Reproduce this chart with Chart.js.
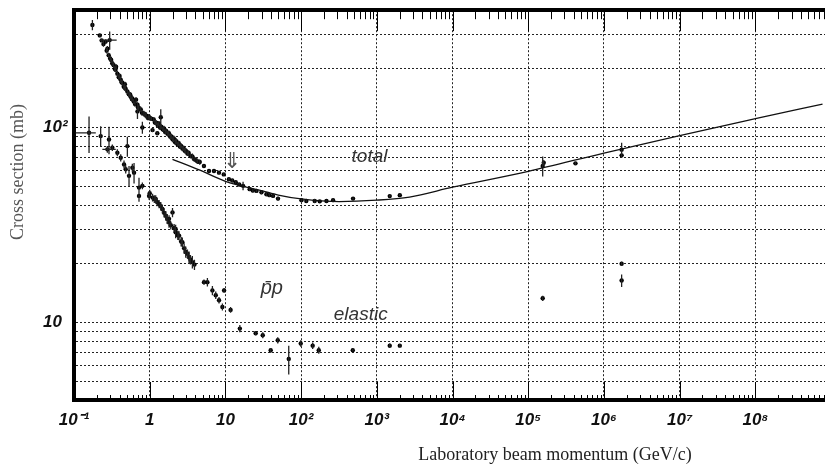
<!DOCTYPE html>
<html>
<head>
<meta charset="utf-8">
<title>pp cross sections</title>
<script src="https://cdn.jsdelivr.net/npm/chart.js@4.4.0/dist/chart.umd.min.js"></script>
<style>
  html, body { margin: 0; padding: 0; background: #fff; overflow: hidden; }
</style>
</head>
<body>
<canvas id="chart" width="825" height="465"></canvas>
<script>
// Axis ticks
const xDecades = [0.1, 1, 10, 1e2, 1e3, 1e4, 1e5, 1e6, 1e7, 1e8];
const xDecadeLabels = ['10\u207B\u00B9', '1', '10', '10\u00B2', '10\u00B3', '10\u2074', '10\u2075', '10\u2076', '10\u2077', '10\u2078'];
const xMinorSteps = [2, 3, 4, 5, 6, 7, 8, 9];
const yGridValues = [4, 5, 6, 7, 8, 9, 10, 20, 30, 40, 50, 60, 70, 80, 90, 100, 200, 300, 400];
const yLabelValues = [10, 100];
const yLabelTexts = ['10', '10\u00B2'];

// Total cross section fit (GeV/c, mb)
const fitMomentum = [2, 4.6, 10, 31, 50, 100, 320, 1000, 2700, 1e4, 1e5, 1e6, 1e7, 1e8, 7.7e8];
const fitSigma = [68.7, 60.4, 53, 47.3, 45, 43, 41.7, 42.4, 44, 49.4, 59.6, 74, 91, 111, 132];

// Total cross section measurements
const totalMomentum = [0.175, 0.219, 0.232, 0.262, 0.276, 0.287, 0.31, 0.334, 0.354, 0.374, 0.414, 0.434,
  0.454, 0.48, 0.507, 0.561, 0.59, 0.615, 0.689, 0.72, 0.761, 0.834, 0.9, 0.97, 1.05, 1.13, 1.22, 1.32,
  1.42, 1.54, 1.65, 1.79, 1.93, 2.08, 2.25, 2.42, 2.6, 2.81, 3.0, 3.27, 3.66, 4.1, 4.58,
  0.245, 0.27, 0.3, 0.32, 0.345, 0.39, 0.425, 0.47, 0.53, 0.58, 0.64, 0.7, 0.79, 0.87, 0.95, 1.0,
  1.17, 1.27, 1.37, 1.48, 1.6, 1.72, 1.86, 2.0, 2.17, 2.33, 2.5, 2.7, 2.9, 3.15, 3.45, 3.85, 4.3,
  0.296, 0.689, 0.8, 1.09, 1.26, 1.4, 0.36, 0.4, 0.47, 0.55, 0.66,
  5.2, 6.07, 7.06, 8.22, 9.5, 11.1, 12.3, 13.7, 15.2, 17.1, 20.9, 23, 25.7, 29.9, 34.8, 38, 42.6, 49.5,
  101, 117, 151, 176, 216, 264, 485, 1480, 2010, 1.55e5, 1.6e5, 4.2e5, 1.71e6, 1.71e6];
const totalSigma = [336, 297, 280, 276, 254, 235, 222, 209, 198, 189, 176, 170,
  162, 158, 153, 144, 141, 136, 131, 126, 124, 118, 115, 114, 111, 110, 106, 105,
  101, 99, 96, 93.5, 90, 88, 85, 83, 80.5, 78.4, 76, 74, 71, 68, 66.5,
  268, 248, 226, 214, 200, 181, 171, 160, 148, 140, 132, 127, 119, 117, 112, 112,
  106, 103, 100, 98, 95, 93, 90, 87, 84, 82, 80, 78, 76, 73.5, 71.5, 69, 67,
  281, 121, 100, 97, 93.5, 113, 205, 184, 167, 148, 139,
  63.5, 59.8, 59.8, 58.7, 57.5, 54.3, 53.5, 52.4, 51, 50.2, 48.3, 47.5, 47.3, 46.5, 45.5, 45, 44.6, 43.2,
  42.4, 42.0, 42.0, 41.8, 42.0, 42.4, 43.2, 44.5, 45.0, 63.5, 66, 65.5, 77, 72];
const totalErr = [20, 6, 5, 8, 8, 7, 7, 7, 6, 6, 6, 6,
  5, 5, 5, 5, 5, 4, 4, 4, 4, 4, 4, 3, 3, 3, 3, 3,
  3, 3, 3, 3, 3, 3, 3, 2.5, 2.5, 2.5, 2.5, 2.5, 2.5, 2, 2,
  8, 8, 7, 7, 6, 6, 5, 5, 5, 4, 4, 4, 4, 3, 3, 3,
  3, 3, 3, 3, 3, 3, 3, 3, 2.5, 2.5, 2.5, 2.5, 2.5, 2, 2, 2, 2,
  30, 10.5, 7, 2, 2, 11, 6, 6, 5, 4, 4,
  1, 1, 1, 1, 1, 1, 1, 1, 1, 2.5, 1, 1, 1, 1, 1, 1, 1, 1,
  1, 0.6, 1, 0.6, 0.6, 0.6, 0.6, 0.6, 0.6, 7.5, 2, 1, 6.5, 2];

// Elastic cross section measurements
const elasticMomentum = [0.158, 0.225, 0.29, 0.276, 0.321, 0.374, 0.414, 0.458, 0.482, 0.507, 0.533, 0.59,
  0.621, 0.722, 0.8, 0.722, 0.98, 1.09, 1.2, 1.33, 1.47, 1.63, 1.8, 2.0, 2.2, 2.44, 2.7, 2.99, 3.31, 3.66,
  1.0, 1.15, 1.25, 1.4, 1.55, 1.7, 1.9, 2.1, 2.35, 2.6, 2.85, 3.15, 3.45, 3.9,
  1.8, 2.2, 5.21, 5.78, 6.73, 7.45, 8.23, 9.12, 9.6, 11.7, 15.5, 25.1, 31.1, 39.6, 49.1, 68.6,
  98.8, 142, 171, 481, 1480, 2010, 1.55e5, 1.71e6, 1.71e6];
const elasticSigma = [94, 90.4, 86.9, 77.3, 78.8, 74.3, 70, 64.7, 61.1, 80.3, 56.5, 62.2,
  58.7, 49.2, 50.2, 44.6, 44.6, 43.7, 43, 40.5, 38.2, 35.3, 32.6, 36.7, 29, 27.9, 25.8, 23, 21.6, 20.4,
  46, 43, 41.5, 39.5, 36.5, 34, 31.5, 30.5, 28, 26, 24, 22.5, 21, 19.8,
  34, 30.2, 16.1, 16.1, 14.6, 13.8, 13.0, 12.0, 14.6, 11.6, 9.3, 8.8, 8.6, 7.2, 8.1, 6.5,
  7.8, 7.6, 7.2, 7.2, 7.6, 7.6, 13.3, 20.0, 16.4];
const elasticErr = [20, 11, 14, 3, 3, 3, 3, 3, 3, 9.5, 7, 3,
  7, 6, 2, 3, 2, 2, 2, 2, 2, 2, 2, 2, 2, 1.5, 1.5, 1.5, 1.5, 1.5,
  2, 2, 2, 2, 2, 2, 1.5, 1.5, 1.5, 1.5, 1.5, 1.2, 1.2, 1.2,
  1.5, 1.5, 0.5, 0.8, 0.8, 0.6, 0.5, 0.5, 0.4, 0.4, 0.4, 0.2, 0.3, 0.2, 0.3, 1.1,
  0.3, 0.3, 0.3, 0.1, 0.2, 0.15, 0.4, 0.5, 1.2];

// Horizontal error bars (momentum range at a given cross section)
const hBarLow = [0.105, 0.237, 0.219];
const hBarHigh = [0.194, 0.356, 0.366];
const hBarSigma = [94, 77.3, 281];

// Text inside the plot, placed in data coordinates
const noteTexts = ['total', 'p\u0304p', 'elastic', '\u21D3'];
const noteMomentum = [800, 41, 612, 12.3];
const noteSigma = [71, 14.9, 10.9, 66];
const noteFonts = ['italic 19px "Liberation Sans", Arial, sans-serif', 'italic 20px "Liberation Sans", Arial, sans-serif',
  'italic 19px "Liberation Sans", Arial, sans-serif', '22px "DejaVu Sans", sans-serif'];

const X_MIN = 0.1, X_MAX = 8.3e8, Y_MIN = 4, Y_MAX = 400;

// minor + major tick list for the log x axis
const xTickValues = [];
xDecades.forEach(d => {
  xTickValues.push(d);
  xMinorSteps.forEach(m => { if (d * m < X_MAX) xTickValues.push(d * m); });
});

function isDecade(v) {
  const e = Math.log10(v);
  return Math.abs(e - Math.round(e)) < 1e-6;
}

// vertical error bar segments, broken by null points
function errorSegments(ps, ss, es) {
  const out = [];
  ps.forEach((p, i) => {
    out.push({x: p, y: ss[i] - es[i]}, {x: p, y: ss[i] + es[i]}, {x: p, y: null});
  });
  return out;
}
function hBarSegments() {
  const out = [];
  hBarSigma.forEach((s, i) => {
    out.push({x: hBarLow[i], y: s}, {x: hBarHigh[i], y: s}, {x: hBarHigh[i], y: null});
  });
  return out;
}
const toPoints = (ps, ss) => ps.map((p, i) => ({x: p, y: ss[i]}));

const tickFont = {family: '"Liberation Sans Narrow", "Liberation Sans", Arial, sans-serif', size: 17, style: 'italic', weight: 'bold'};

// tick marks pointing into the plot on the top and bottom frame
const innerTicks = {
  id: 'innerTicks',
  afterDatasetsDraw(chart) {
    const {ctx, chartArea: a, scales: {x}} = chart;
    ctx.save();
    ctx.strokeStyle = '#000';
    ctx.lineWidth = 1;
    x.ticks.forEach(t => {
      const px = Math.round(x.getPixelForValue(t.value)) + 0.5;
      if (px < a.left + 3) return;
      const top = t.major ? 21 : 9;
      const bot = t.major ? 18 : 5;
      ctx.beginPath();
      ctx.moveTo(px, a.top);
      ctx.lineTo(px, a.top + top);
      ctx.moveTo(px, a.bottom);
      ctx.lineTo(px, a.bottom - bot);
      ctx.stroke();
    });
    ctx.restore();
  }
};

// axis titles and in-plot notes
const labels = {
  id: 'labels',
  afterDraw(chart) {
    const {ctx, scales: {x, y}} = chart;
    ctx.save();
    ctx.textAlign = 'center';
    ctx.textBaseline = 'middle';
    noteTexts.forEach((t, i) => {
      ctx.font = noteFonts[i];
      ctx.fillStyle = i === 3 ? '#555' : '#333';
      ctx.fillText(t, x.getPixelForValue(noteMomentum[i]), y.getPixelForValue(noteSigma[i]));
    });
    ctx.font = '18px "Liberation Serif", "Times New Roman", serif';
    ctx.fillStyle = '#222';
    ctx.fillText('Laboratory beam momentum (GeV/c)', 555, 455);
    ctx.translate(18, 172);
    ctx.rotate(-Math.PI / 2);
    ctx.fillStyle = '#555';
    ctx.fillText('Cross section (mb)', 0, 0);
    ctx.restore();
  }
};

new Chart(document.getElementById('chart'), {
  data: {
    datasets: [
      {
        type: 'line',
        label: 'total fit',
        data: toPoints(fitMomentum, fitSigma),
        borderColor: '#111',
        borderWidth: 1.3,
        pointRadius: 0,
        cubicInterpolationMode: 'monotone',
        xAxisID: 'x', yAxisID: 'y'
      },
      {
        type: 'line',
        label: 'error bars',
        data: errorSegments(totalMomentum, totalSigma, totalErr)
          .concat(errorSegments(elasticMomentum, elasticSigma, elasticErr))
          .concat(hBarSegments()),
        borderColor: '#222',
        borderWidth: 1.3,
        pointRadius: 0,
        spanGaps: false,
        xAxisID: 'x', yAxisID: 'y'
      },
      {
        type: 'scatter',
        label: 'total',
        data: toPoints(totalMomentum, totalSigma),
        backgroundColor: '#000',
        borderColor: '#000',
        pointRadius: 2.2,
        borderWidth: 0,
        xAxisID: 'x', yAxisID: 'y'
      },
      {
        type: 'scatter',
        label: 'elastic',
        data: toPoints(elasticMomentum, elasticSigma),
        backgroundColor: '#000',
        borderColor: '#000',
        pointRadius: 2.2,
        borderWidth: 0,
        xAxisID: 'x', yAxisID: 'y'
      }
    ]
  },
  options: {
    responsive: false,
    animation: false,
    events: [],
    layout: {autoPadding: false, padding: {left: 43, right: 0, top: 0, bottom: 0}},
    plugins: {legend: {display: false}, tooltip: {enabled: false}},
    scales: {
      x: {
        type: 'logarithmic',
        position: 'bottom',
        min: X_MIN,
        max: X_MAX,
        afterBuildTicks: s => { s.ticks = xTickValues.map(v => ({value: v, major: isDecade(v)})); },
        afterFit: s => { s.height = 65; s.paddingLeft = 0; s.paddingRight = 0; },
        grid: {
          color: c => (c.tick && c.tick.major && c.tick.value > X_MIN) ? '#222' : 'rgba(0,0,0,0)',
          lineWidth: 1,
          drawTicks: false,
          borderDash: [2, 2]
        },
        border: {display: true, color: '#000', width: 4, dash: [2, 2]},
        ticks: {
          autoSkip: false,
          maxRotation: 0,
          minRotation: 0,
          padding: 10,
          color: '#111',
          font: tickFont,
          callback: v => isDecade(v) ? xDecadeLabels[Math.round(Math.log10(v)) + 1] : ''
        }
      },
      x2: {
        type: 'logarithmic',
        position: 'top',
        min: X_MIN,
        max: X_MAX,
        afterFit: s => { s.height = 10; s.paddingLeft = 0; s.paddingRight = 0; },
        grid: {drawOnChartArea: false, drawTicks: false},
        border: {display: true, color: '#000', width: 4},
        ticks: {display: false}
      },
      y: {
        type: 'logarithmic',
        min: Y_MIN,
        max: Y_MAX,
        afterBuildTicks: s => { s.ticks = yGridValues.map(v => ({value: v})); },
        afterFit: s => { s.width = 31; },
        grid: {
          color: c => (c.tick && (c.tick.value === Y_MIN || c.tick.value === Y_MAX)) ? 'rgba(0,0,0,0)' : '#222',
          lineWidth: 1,
          drawTicks: false,
          borderDash: [2, 2]
        },
        border: {display: true, color: '#000', width: 4, dash: [2, 2]},
        ticks: {
          autoSkip: false,
          crossAlign: 'far',
          padding: 0,
          color: '#111',
          font: tickFont,
          callback: v => {
            const i = yLabelValues.indexOf(v);
            return i >= 0 ? yLabelTexts[i] : '';
          }
        }
      }
    }
  },
  plugins: [innerTicks, labels]
});
</script>
</body>
</html>
